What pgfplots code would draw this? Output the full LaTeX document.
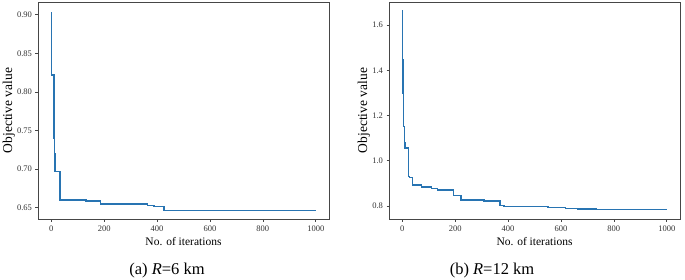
\documentclass[border=0pt]{standalone}
\usepackage{pgfplots}
\pgfplotsset{compat=1.18}
\usepackage{fontspec}
\setmainfont{Liberation Serif}
\definecolor{lineblue}{RGB}{40,116,178}
\definecolor{framegray}{RGB}{70,70,70}
\pgfplotsset{
  myaxis/.style={
    scale only axis,
    width=291pt, height=217pt,
    xmin=-50, xmax=1050,
    xtick={0,200,...,1000},
    axis line style={framegray, line width=0.8pt},
    tick style={framegray, line width=0.6pt},
    tick align=outside,
    major tick length=2.5pt,
    xtick pos=bottom, ytick pos=left,
    /pgf/number format/assume math mode=true,
    /pgf/number format/1000 sep={},
    tick label style={font=\fontsize{8.5}{9}\selectfont, text=black!80},
    xticklabel style={yshift=-1pt},
    xlabel={No. of iterations},
    ylabel={Objective value},
    xlabel style={font=\fontsize{11.5}{13}\selectfont, at={(axis description cs:0.5,0)}, anchor=base, yshift=-26pt},
  }
}
\begin{document}
\begin{tikzpicture}
\path[use as bounding box] (0,0) rectangle (685pt,279pt);
\begin{axis}[myaxis,
  at={(38pt,60pt)}, anchor=south west,
  ymin=0.6354, ymax=0.9165,
  ytick={0.65,0.70,...,0.90},
  yticklabel style={/pgf/number format/.cd, fixed, fixed zerofill, precision=2},
  ylabel style={font=\fontsize{13.5}{15}\selectfont, at={(axis description cs:-0.0893,0.5)}, anchor=base},
]
\addplot[const plot, lineblue, line width=1.3pt] coordinates {
(0,0.903) (2,0.822) (11,0.740) (13,0.720) (14,0.697) (33,0.660)
(132,0.6587) (186,0.6548) (365,0.653) (388,0.6513) (426,0.6468) (1000,0.6468)
};
\end{axis}
\begin{axis}[myaxis,
  at={(389pt,60pt)}, anchor=south west,
  ymin=0.7425, ymax=1.7017,
  ytick={0.8,1.0,...,1.6},
  yticklabel style={/pgf/number format/.cd, fixed, fixed zerofill, precision=1},
  ylabel style={font=\fontsize{13.5}{15}\selectfont, at={(axis description cs:-0.0756,0.5)}, anchor=base},
]
\addplot[const plot, lineblue, line width=1.3pt] coordinates {
(0,1.663) (1,1.449) (3,1.300) (5,1.151) (8,1.078) (10,1.056) (24,0.931) (27,0.925)
(40,0.893) (74,0.884) (111,0.876) (134,0.871) (194,0.847) (222,0.826) (309,0.822)
(370,0.801) (385,0.797) (551,0.794) (616,0.788) (664,0.787) (733,0.784) (1000,0.784)
};
\end{axis}
\node[anchor=base, font=\fontsize{16.5}{18}\selectfont] at (167pt,5pt) {(a) \textit{R}=6 km};
\node[anchor=base, font=\fontsize{16.5}{18}\selectfont] at (492pt,5pt) {(b) \textit{R}=12 km};
\end{tikzpicture}
\end{document}
